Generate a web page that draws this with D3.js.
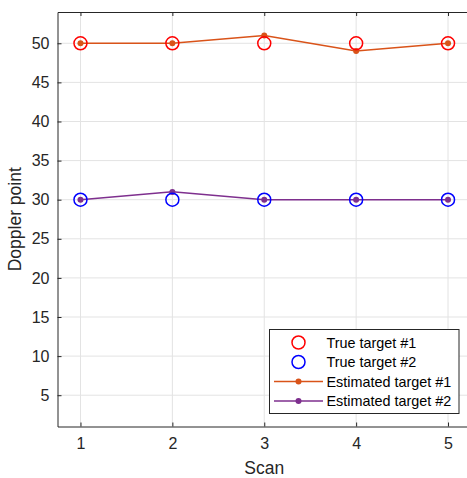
<!DOCTYPE html>
<html>
<head>
<meta charset="utf-8">
<script src="https://cdn.jsdelivr.net/npm/d3@7"></script>
<style>
  html, body { margin: 0; padding: 0; background: #fff; }
  svg { display: block; font-family: "Liberation Sans", Arial, Helvetica, sans-serif; }
</style>
</head>
<body>
<svg id="chart" width="467" height="478"></svg>
<script>
// Scan indices and Doppler bins per target
const scans = [1, 2, 3, 4, 5];
const trueTarget1 = [50, 50, 50, 50, 50];
const trueTarget2 = [30, 30, 30, 30, 30];
const estTarget1 = [50, 50, 51, 49, 50];
const estTarget2 = [30, 31, 30, 30, 30];
const xTicks = [1, 2, 3, 4, 5];
const yTicks = [5, 10, 15, 20, 25, 30, 35, 40, 45, 50];
const legendLabels = ["True target #1", "True target #2", "Estimated target #1", "Estimated target #2"];

const svg = d3.select("#chart");
const plotL = 57.5, plotT = 12, plotR = 471, plotB = 426.5;

const x = d3.scaleLinear().domain([0.75, 5.25]).range([plotL, plotR]);
const y = d3.scaleLinear().domain([1, 54]).range([plotB, plotT]);

const axisColor = "#262626";
const gridColor = "#e3e3e3";

// grid
const g = svg.append("g");
g.selectAll(".gx").data(xTicks).join("line")
  .attr("x1", d => x(d)).attr("x2", d => x(d))
  .attr("y1", plotT).attr("y2", plotB)
  .attr("stroke", gridColor).attr("stroke-width", 1);
g.selectAll(".gy").data(yTicks).join("line")
  .attr("x1", plotL).attr("x2", plotR)
  .attr("y1", d => y(d)).attr("y2", d => y(d))
  .attr("stroke", gridColor).attr("stroke-width", 1);

// axes (ticks point inward)
const tickFont = "16px";
const xAxis = svg.append("g").attr("transform", `translate(0,${plotB})`)
  .call(d3.axisBottom(x).tickValues(xTicks).tickFormat(d3.format("d"))
    .tickSizeInner(-4).tickSizeOuter(0).tickPadding(11));
const xAxisTop = svg.append("g").attr("transform", `translate(0,${plotT})`)
  .call(d3.axisTop(x).tickValues(xTicks).tickSizeInner(-4).tickSizeOuter(0).tickFormat(""));
const yAxis = svg.append("g").attr("transform", `translate(${plotL},0)`)
  .call(d3.axisLeft(y).tickValues(yTicks).tickFormat(d3.format("d"))
    .tickSizeInner(-4).tickSizeOuter(0).tickPadding(8));
[xAxis, xAxisTop, yAxis].forEach(a => {
  a.select(".domain").attr("stroke", axisColor).attr("stroke-width", 1);
  a.selectAll(".tick line").attr("stroke", axisColor);
  a.selectAll(".tick text").attr("fill", axisColor).style("font-size", tickFont)
    .style("font-family", "Liberation Sans, Arial, sans-serif");
});

// axis labels
svg.append("text").attr("x", (plotL + plotR) / 2).attr("y", 474)
  .attr("text-anchor", "middle").attr("fill", axisColor).style("font-size", "17.5px").text("Scan");
svg.append("text").attr("transform", `translate(21,${(plotT + plotB) / 2}) rotate(-90)`)
  .attr("text-anchor", "middle").attr("fill", axisColor).style("font-size", "17.5px").text("Doppler point");

const red = "#ff0000", blue = "#0000ff", orange = "#D95319", purple = "#7E2F8E";
const line = d3.line().x((d, i) => x(scans[i])).y(d => y(d));

// estimated tracks
[[estTarget1, orange], [estTarget2, purple]].forEach(([vals, c]) => {
  svg.append("path").datum(vals).attr("d", line)
    .attr("fill", "none").attr("stroke", c).attr("stroke-width", 1.5);
  svg.append("g").selectAll("circle").data(vals).join("circle")
    .attr("cx", (d, i) => x(scans[i])).attr("cy", d => y(d)).attr("r", 3)
    .attr("fill", c);
});

// true positions
[[trueTarget1, red], [trueTarget2, blue]].forEach(([vals, c]) => {
  svg.append("g").selectAll("circle").data(vals).join("circle")
    .attr("cx", (d, i) => x(scans[i])).attr("cy", d => y(d)).attr("r", 6.5)
    .attr("fill", "none").attr("stroke", c).attr("stroke-width", 1.5);
});

// legend
const lg = svg.append("g");
lg.append("rect").attr("x", 269.5).attr("y", 329.5).attr("width", 189.5).attr("height", 84)
  .attr("fill", "#fff").attr("stroke", axisColor).attr("stroke-width", 1);
const rowY = [342.5, 362, 381.5, 401];
const symX = 298.5;
const items = [
  { type: "circle", color: red },
  { type: "circle", color: blue },
  { type: "line", color: orange },
  { type: "line", color: purple }
];
items.forEach((it, i) => {
  if (it.type === "circle") {
    lg.append("circle").attr("cx", symX).attr("cy", rowY[i]).attr("r", 6.5)
      .attr("fill", "none").attr("stroke", it.color).attr("stroke-width", 1.5);
  } else {
    lg.append("line").attr("x1", 274).attr("x2", 323).attr("y1", rowY[i]).attr("y2", rowY[i])
      .attr("stroke", it.color).attr("stroke-width", 1.5);
    lg.append("circle").attr("cx", symX).attr("cy", rowY[i]).attr("r", 3).attr("fill", it.color);
  }
  lg.append("text").attr("x", 326.5).attr("y", rowY[i]).attr("dy", "0.35em")
    .attr("fill", "#000").style("font-size", "14.4px").text(legendLabels[i]);
});
</script>
</body>
</html>
